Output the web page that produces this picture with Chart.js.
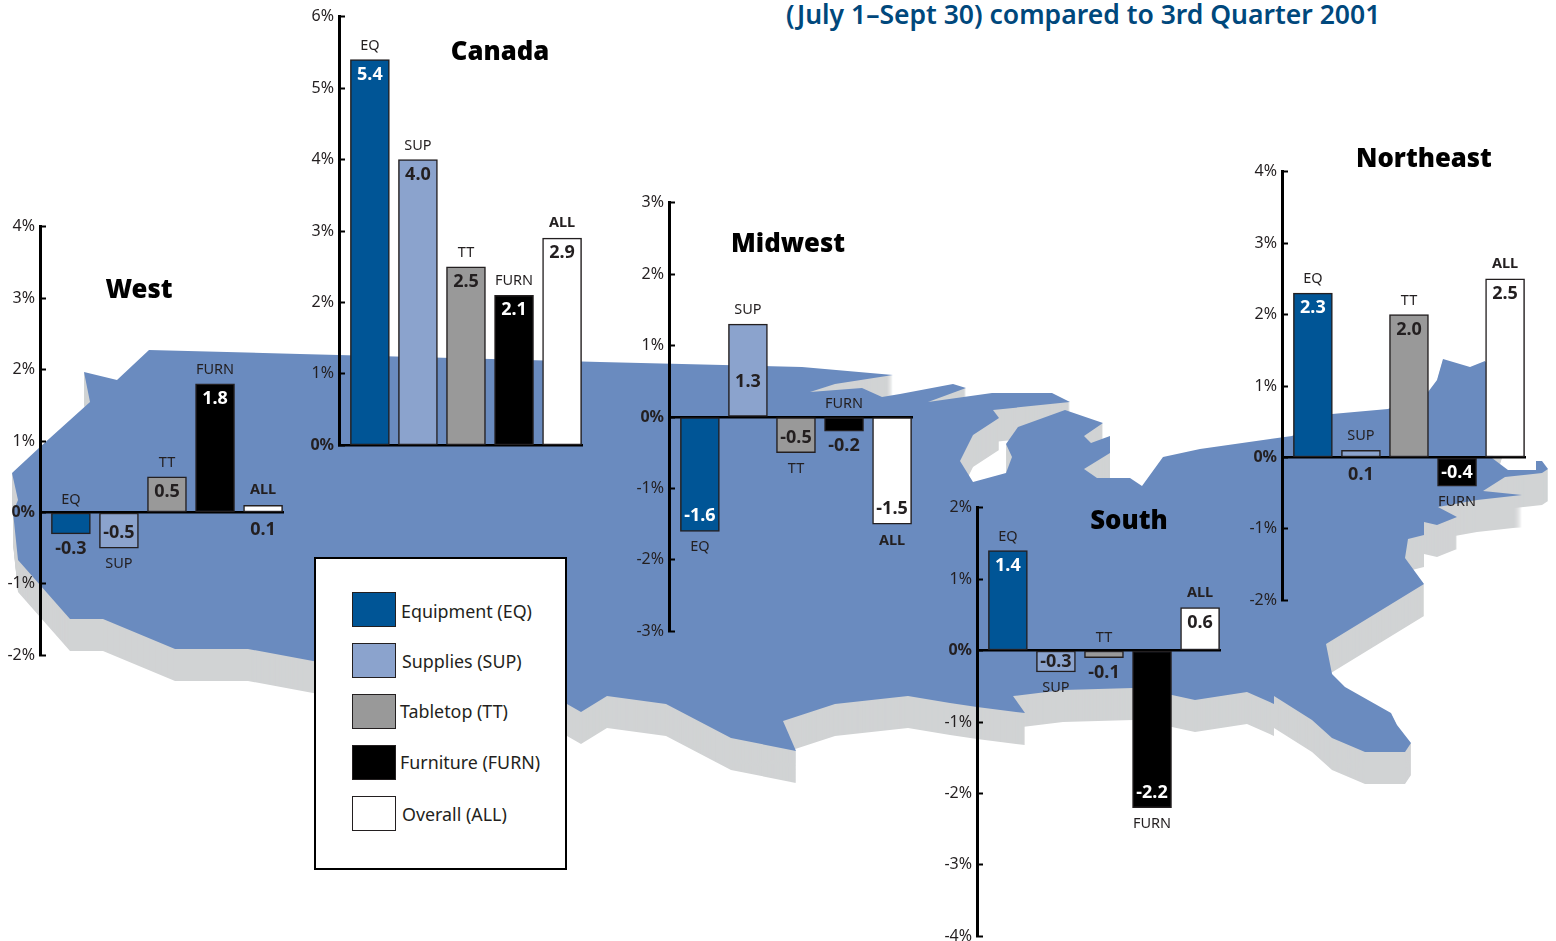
<!DOCTYPE html>
<html>
<head>
<meta charset="utf-8">
<title>3rd Quarter regional sales</title>
<script src="https://cdn.jsdelivr.net/npm/chart.js@4/dist/chart.umd.min.js"></script>
<style>
    html, body { margin: 0; padding: 0; background: #fff; }
    body { position: relative; width: 1556px; height: 941px; overflow: hidden; font-family: "Noto Sans", sans-serif; color: #231f20; }
    #map { position: absolute; left: 0; top: 0; }
    canvas { position: absolute; }
    #header { position: absolute; left: 786px; top: -4px; width: 593px; font-size: 26.5px; font-weight: 600; color: #00487c; white-space: nowrap; }
    .region { position: absolute; font-size: 25.7px; font-weight: 900; color: #000; transform: translate(-50%, -50%); white-space: nowrap; }
    #legend { position: absolute; left: 314px; top: 557px; width: 249px; height: 309px; border: 2.5px solid #000; background: #fff; }
    .swatch { position: absolute; left: 36px; width: 41.5px; height: 33px; border: 1.5px solid #231f20; }
    .legendText { position: absolute; font-size: 17.85px; line-height: 24px; white-space: nowrap; }
</style>
</head>
<body>
<svg id="map" width="1556" height="941"></svg>
<div id="header">(July 1–Sept 30) compared to 3rd Quarter 2001</div>
<div id="legend"></div>

<script>
const categories = ['EQ', 'SUP', 'TT', 'FURN', 'ALL']
const legendNames = ['Equipment (EQ)', 'Supplies (SUP)', 'Tabletop (TT)', 'Furniture (FURN)', 'Overall (ALL)']
const seriesColors = ['#005596', '#8ba3cd', '#999999', '#000000', '#ffffff']

const westValues = [-0.3, -0.5, 0.5, 1.8, 0.1]
const canadaValues = [5.4, 4.0, 2.5, 2.1, 2.9]
const midwestValues = [-1.6, 1.3, -0.5, -0.2, -1.5]
const southValues = [1.4, -0.3, -0.1, -2.2, 0.6]
const northeastValues = [2.3, 0.1, 2.0, -0.4, 2.5]

const westRange = [-2, 4]
const canadaRange = [0, 6]
const midwestRange = [-3, 3]
const southRange = [-4, 2]
const northeastRange = [-2, 4]

// outline of the map behind the charts, page pixels
const mapOutline = '149,350 300,354 600,362 802,367 893,375 835,384 810,392 862,388 882,397 900,394 953,384 966,388 928,402 ' +
    '992,393 1052,393 1070,402 993,410 999,418 973,435 960,461 973,482 1006,473 1012,457 1006,444 1018,427 1065,410 1103,423 ' +
    '1084,436 1091,443 1110,436 1110,453 1084,469 1097,478 1130,478 1142,486 1163,457 1200,449 1292,436 1332,414 1388,409 ' +
    '1428,392 1437,380 1443,359 1470,367 1485,361 1510,400 1492,458 1508,470 1536,470 1536,461 1542,461 1548,469 1542,473 ' +
    '1505,477 1483,491 1522,495 1477,500 1438,507 1457,517 1437,525 1424,522 1424,535 1408,539 1405,558 1424,584 1326,644 ' +
    '1332,674 1345,687 1391,713 1397,725 1411,743 1405,752 1365,752 1332,738 1312,720 1274,696 1274,704 1247,692 1195,700 ' +
    '1172,695 1133,688 1063,690 1013,696 1025,713 977,707 950,703 908,696 835,704 783,721 796,751 731,738 666,704 607,696 ' +
    '581,712 567,704 313,661 248,649 175,649 103,619 70,619 18,560 13,512 18,500 12,473 40,447 90,402 84,372 117,380'

const FONT = '"Noto Sans", sans-serif'
const INK = '#231f20'
const AXIS_GUTTER = 40
const PAD = 12
// the y axis labels push the plot area in a bit more than the padding
const AREA_TOP = 20
const AREA_BOTTOM = 21
const UNIT_PX = 71.5
const BAND_PX = 48.2
const LEAD_PX = 31
const TRAIL_PX = 20

// flipBelow: bars smaller than this get their value outside the bar
const regions = [
    { name: 'West', values: westValues, range: westRange, axisX: 40, topY: 226, titleX: 139, titleY: 288, flipBelow: 0.4 },
    { name: 'Canada', values: canadaValues, range: canadaRange, axisX: 339, topY: 16, titleX: 500, titleY: 50, flipBelow: 0.3 },
    { name: 'Midwest', values: midwestValues, range: midwestRange, axisX: 669, topY: 202, titleX: 788, titleY: 242, flipBelow: 0.3, drop: { SUP: 43 } },
    { name: 'South', values: southValues, range: southRange, axisX: 977, topY: 507, titleX: 1129, titleY: 519, flipBelow: 0.3 },
    { name: 'Northeast', values: northeastValues, range: northeastRange, axisX: 1282, topY: 171, titleX: 1424, titleY: 157, flipBelow: 0.3 }
]

function drawMap() {
    const svg = document.getElementById('map')
    const ns = 'http://www.w3.org/2000/svg'
    for (let dy = 32; dy >= 0; dy--) {
        const poly = document.createElementNS(ns, 'polygon')
        poly.setAttribute('points', mapOutline)
        poly.setAttribute('fill', dy === 0 ? '#6a8bbf' : '#d1d3d4')
        poly.setAttribute('transform', 'translate(0,' + dy + ')')
        svg.appendChild(poly)
    }
}

function drawLegend() {
    const box = document.getElementById('legend')
    const textLeft = [85, 86, 84, 84, 86]
    const textTop = [40, 90, 140, 191, 243]
    legendNames.forEach((name, i) => {
        const swatch = document.createElement('div')
        swatch.className = 'swatch'
        swatch.style.top = (33 + i * 51) + 'px'
        swatch.style.background = seriesColors[i]
        box.appendChild(swatch)

        const text = document.createElement('div')
        text.className = 'legendText'
        text.textContent = name
        text.style.left = textLeft[i] + 'px'
        text.style.top = textTop[i] + 'px'
        box.appendChild(text)
    })
}

const barLabels = {
    id: 'barLabels',
    afterDatasetsDraw(chart, args, opts) {
        const ctx = chart.ctx
        const meta = chart.getDatasetMeta(0)
        const zero = chart.scales.y.getPixelForValue(0)
        ctx.save()
        ctx.textAlign = 'center'
        ctx.textBaseline = 'middle'
        meta.data.forEach((bar, i) => {
            const v = opts.values[i]
            const name = categories[i]
            const up = v >= 0
            const end = chart.scales.y.getPixelForValue(v)
            const height = Math.abs(end - zero)
            const flip = Math.abs(v) < opts.flipBelow

            // category name sits past the end of the bar, except on tiny negative bars
            const gap = name === 'ALL' ? 15 : 14
            let nameY = up ? end - gap : end + gap + 2
            if (flip && !up) nameY = zero - 13
            ctx.font = (name === 'ALL' ? 'bold ' : '') + '14.5px ' + FONT
            ctx.fillStyle = INK
            ctx.fillText(name, bar.x, nameY)

            let valueY
            if (flip) {
                valueY = up ? zero + 17 : end + 15
            } else if (height < 30) {
                valueY = (end + zero) / 2 + 1
            } else {
                valueY = up ? end + 15 : end - 15
            }
            if (opts.drop && opts.drop[name]) valueY += opts.drop[name]
            const dark = !flip && (name === 'EQ' || name === 'FURN')
            ctx.font = 'bold 18px ' + FONT
            ctx.fillStyle = dark ? '#fff' : INK
            ctx.fillText(v.toFixed(1), bar.x, valueY)
        })
        ctx.restore()
    }
}

function drawRegion(region) {
    const plotWidth = LEAD_PX + 4 * BAND_PX + TRAIL_PX
    const canvas = document.createElement('canvas')
    canvas.width = AXIS_GUTTER + plotWidth + 4
    canvas.height = UNIT_PX * 6 + AREA_TOP + AREA_BOTTOM
    canvas.style.left = (region.axisX - AXIS_GUTTER) + 'px'
    canvas.style.top = (region.topY - AREA_TOP) + 'px'
    document.body.appendChild(canvas)

    new Chart(canvas.getContext('2d'), {
        type: 'bar',
        data: {
            datasets: [{
                data: categories.map((c, i) => ({ x: i, y: region.values[i] })),
                backgroundColor: seriesColors,
                borderColor: INK,
                borderWidth: 1.5,
                borderSkipped: false,
                barThickness: 39
            }]
        },
        options: {
            responsive: false,
            animation: false,
            devicePixelRatio: 1,
            layout: { padding: { top: PAD, bottom: PAD, left: 0, right: 4 } },
            plugins: {
                legend: { display: false },
                tooltip: { enabled: false },
                barLabels: { values: region.values, flipBelow: region.flipBelow, drop: region.drop }
            },
            scales: {
                x: {
                    type: 'linear',
                    offset: false,
                    min: -LEAD_PX / BAND_PX,
                    max: 4 + TRAIL_PX / BAND_PX,
                    position: { y: 0 },
                    ticks: { display: false },
                    grid: { display: false },
                    border: { display: true, width: 2.5, color: '#000' }
                },
                y: {
                    min: region.range[0],
                    max: region.range[1],
                    afterFit: scale => { scale.width = AXIS_GUTTER },
                    ticks: {
                        stepSize: 1,
                        padding: 11,
                        color: INK,
                        callback: v => v + '%',
                        font: c => ({ family: FONT, size: 16, weight: c.tick && c.tick.value === 0 ? 'bold' : 'normal' })
                    },
                    grid: { drawOnChartArea: false, tickLength: -6, tickWidth: 2, tickColor: '#000' },
                    border: { display: true, width: 3, color: '#000' }
                }
            }
        },
        plugins: [barLabels]
    })

    const title = document.createElement('div')
    title.className = 'region'
    title.textContent = region.name
    title.style.left = region.titleX + 'px'
    title.style.top = region.titleY + 'px'
    document.body.appendChild(title)
}

drawMap()
drawLegend()
regions.forEach(drawRegion)
</script>
</body>
</html>
